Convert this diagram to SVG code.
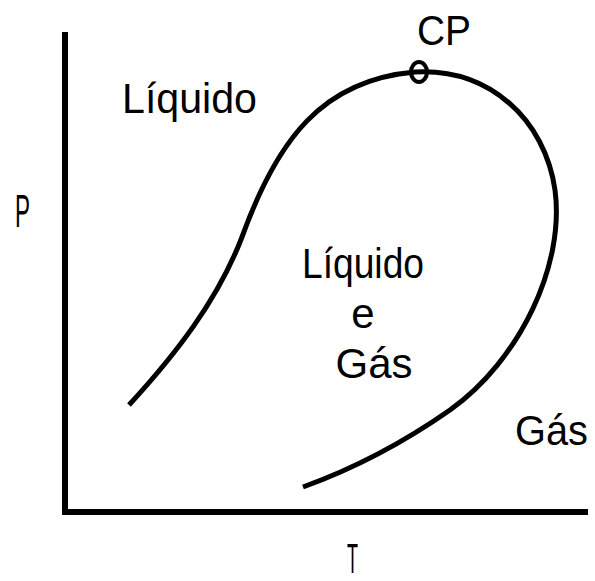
<svg xmlns="http://www.w3.org/2000/svg" width="595" height="581" viewBox="0 0 595 581">
<style>
.t{font-family:"Liberation Sans",Arial,sans-serif;font-size:42px;fill:#000}
.ax{stroke:#000;stroke-width:6;fill:none}
.cv{stroke:#000;stroke-width:5;fill:none;stroke-linecap:butt}
</style>
<rect width="595" height="581" fill="#fff"/>
<g id="axes">
<line class="ax" x1="65" y1="32" x2="65" y2="515"/>
<line class="ax" x1="62" y1="512" x2="588" y2="512"/>
</g>
<g id="connectors">
<path class="cv" d="M129,405 C175,355 218,300 242,237 C277,140 322,80 415,72 C490,68 545,120 555,190 C565,265 520,360 450,410 C400,445 350,470 303,487"/>
</g>
<g id="cp">
<ellipse cx="419" cy="72" rx="8" ry="10" fill="none" stroke="#000" stroke-width="4"/>
<text class="t" x="417" y="45" textLength="54" lengthAdjust="spacingAndGlyphs">CP</text>
</g>
<g id="labels">
<text class="t" x="122" y="113" textLength="135" lengthAdjust="spacingAndGlyphs">Líquido</text>
<text class="t" x="15" y="227" style="font-size:46px" textLength="15" lengthAdjust="spacingAndGlyphs">P</text>
<text class="t" x="347" y="573" textLength="11" lengthAdjust="spacingAndGlyphs">T</text>
<text class="t" x="302" y="278" textLength="122" lengthAdjust="spacingAndGlyphs">Líquido</text>
<text class="t" x="363" y="328" text-anchor="middle">e</text>
<text class="t" x="374" y="378" text-anchor="middle">Gás</text>
<text class="t" x="515" y="445" textLength="73" lengthAdjust="spacingAndGlyphs">Gás</text>
</g>
</svg>
